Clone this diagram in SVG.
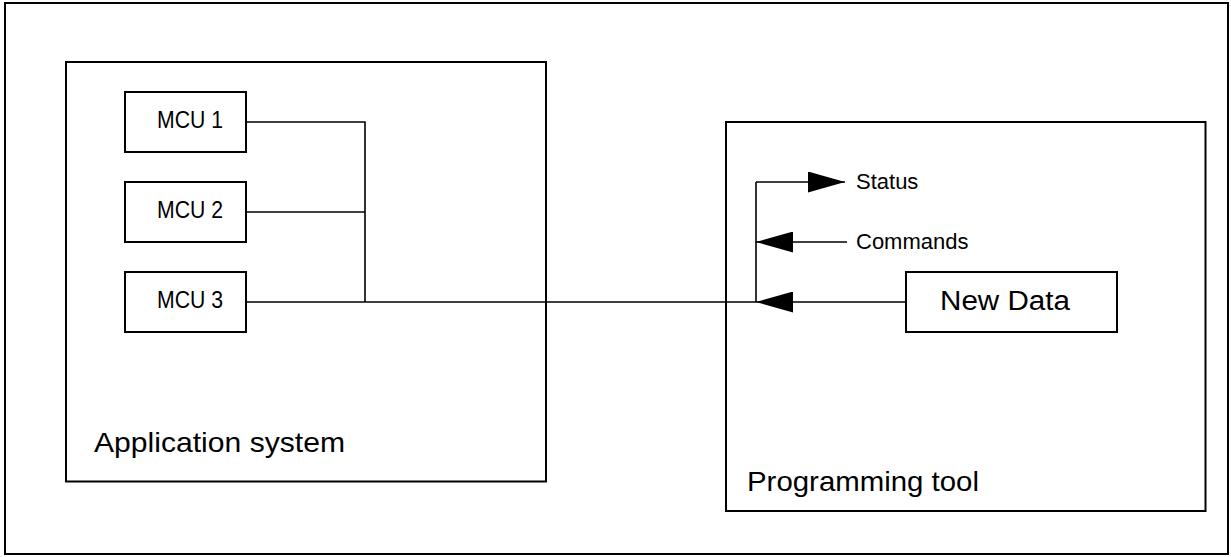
<svg xmlns="http://www.w3.org/2000/svg" width="1231" height="557" viewBox="0 0 1231 557">
  <style>
    .box { fill: #fff; stroke: #000; stroke-width: 2; }
    .frame { fill: none; stroke: #000; stroke-width: 2; }
    .wire { fill: none; stroke: #000; stroke-width: 1.6; }
    .lbl { font-family: "Liberation Sans", Arial, Helvetica, sans-serif; fill: #000; }
    .mcu { font-size: 23px; }
  </style>
  <defs>
    <marker id="arrow" viewBox="0 0 37 21" refX="37" refY="10.5" markerWidth="37" markerHeight="21" markerUnits="userSpaceOnUse" orient="auto">
      <path d="M0,0 L37,10.5 L0,21 Z" fill="#000"/>
    </marker>
  </defs>
  <rect width="1231" height="557" fill="#fff"/>
  <rect id="frame" class="frame" x="5" y="3" width="1223" height="551"/>

  <g id="application-system">
    <rect class="box" x="66" y="62" width="480" height="419.5"/>
    <text class="lbl" x="94" y="452" font-size="28" textLength="251" lengthAdjust="spacingAndGlyphs">Application system</text>
  </g>
  <g id="programming-tool">
    <rect class="box" x="726" y="122" width="479.5" height="389"/>
    <text class="lbl" x="747" y="491" font-size="28" textLength="232" lengthAdjust="spacingAndGlyphs">Programming tool</text>
  </g>

  <g id="mcu1">
    <rect class="box" x="125" y="92" width="121" height="60"/>
    <text class="lbl mcu" x="157" y="127.5" textLength="66" lengthAdjust="spacingAndGlyphs">MCU 1</text>
  </g>
  <g id="mcu2">
    <rect class="box" x="125" y="182" width="121" height="60"/>
    <text class="lbl mcu" x="157" y="217.5" textLength="66" lengthAdjust="spacingAndGlyphs">MCU 2</text>
  </g>
  <g id="mcu3">
    <rect class="box" x="125" y="272" width="121" height="60"/>
    <text class="lbl mcu" x="157" y="307.5" textLength="66" lengthAdjust="spacingAndGlyphs">MCU 3</text>
  </g>
  <g id="new-data">
    <rect class="box" x="906" y="272" width="211" height="60"/>
    <text class="lbl" x="940" y="310" font-size="27" textLength="130" lengthAdjust="spacingAndGlyphs">New Data</text>
  </g>

  <g id="connectors">
    <path class="wire" d="M246,122 H365 V302"/>
    <path class="wire" d="M246,212 H365"/>
    <path class="wire" d="M246,302 H756"/>
    <path class="wire" d="M756,302 V182"/>
    <path class="wire" d="M756,182 H845" marker-end="url(#arrow)"/>
    <path class="wire" d="M847,242 H756" marker-end="url(#arrow)"/>
    <path class="wire" d="M906,302 H756" marker-end="url(#arrow)"/>
  </g>

  <g id="labels">
    <text class="lbl" x="856" y="188.7" font-size="22">Status</text>
    <text class="lbl" x="856" y="248.5" font-size="22">Commands</text>
  </g>
</svg>
